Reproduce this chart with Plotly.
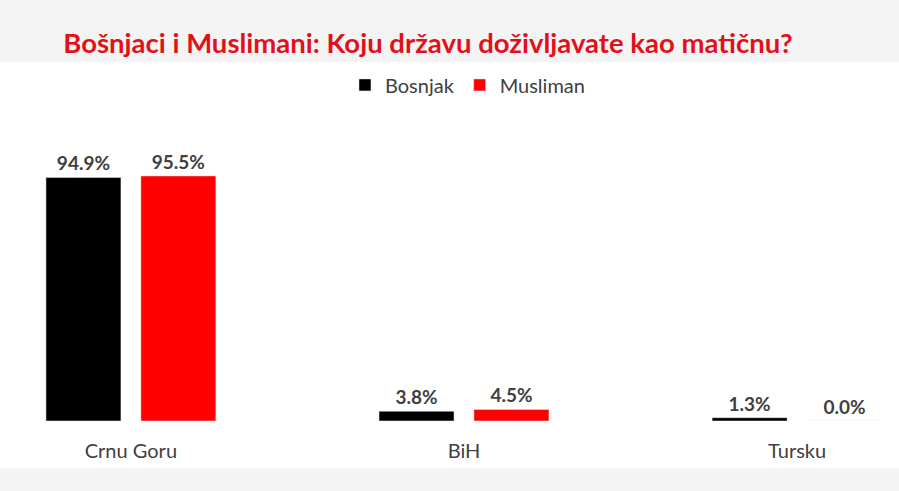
import plotly.graph_objects as go

# Data
categories = ["Crnu Goru", "BiH", "Tursku"]
bosnjak = [94.9, 3.8, 1.3]
musliman = [95.5, 4.5, 0.0]

TEXT_GREY = "#404040"
FONT = "Lato"

fig = go.Figure()

fig.add_trace(
    go.Bar(
        x=categories,
        y=bosnjak,
        name="Bosnjak",
        marker=dict(color="#000000"),
        texttemplate="%{y:.1f}%",
        textposition="outside",
        textfont=dict(family=FONT, size=19, color=TEXT_GREY, weight="bold"),
        cliponaxis=False,
    )
)

fig.add_trace(
    go.Bar(
        x=categories,
        y=musliman,
        name="Musliman",
        marker=dict(color="#ff0000"),
        texttemplate="%{y:.1f}%",
        textposition="outside",
        textfont=dict(family=FONT, size=19, color=TEXT_GREY, weight="bold"),
        cliponaxis=False,
    )
)

# white panel over the grey page
fig.add_shape(
    type="rect",
    xref="paper",
    yref="paper",
    x0=-0.01,
    x1=1.01,
    y0=-0.1464,
    y1=1.1184,
    fillcolor="#ffffff",
    line=dict(width=0),
    layer="below",
)

fig.update_layout(
    title=dict(
        text="Bošnjaci i Muslimani: Koju državu doživljavate kao matičnu?",
        font=dict(family=FONT, size=27.5, color="#e3101a", weight="bold"),
        x=0.476,
        xanchor="center",
        y=0.912,
        yanchor="middle",
        yref="container",
    ),
    barmode="group",
    bargap=0.43,
    bargroupgap=0.21,
    xaxis=dict(
        range=[-0.393, 2.306],
        showgrid=False,
        showline=False,
        zeroline=False,
        ticks="",
        ticklabelstandoff=16,
        tickfont=dict(family=FONT, size=20, color=TEXT_GREY),
    ),
    yaxis=dict(
        range=[0, 125.1],
        visible=False,
        showgrid=False,
        zeroline=False,
    ),
    legend=dict(
        orientation="h",
        x=0.52,
        xanchor="center",
        y=1.047,
        yanchor="middle",
        font=dict(family=FONT, size=20, color=TEXT_GREY),
        bgcolor="rgba(0,0,0,0)",
        itemclick=False,
    ),
    showlegend=True,
    paper_bgcolor="#f4f4f4",
    plot_bgcolor="rgba(0,0,0,0)",
    width=899,
    height=491,
    margin=dict(l=0, r=0, t=100, b=70),
)

# drop the default page margin so the chart sits at the window corner
fig.write_html(
    "out.html",
    config={"displayModeBar": False},
    post_script="document.body.style.margin = '0';",
)
